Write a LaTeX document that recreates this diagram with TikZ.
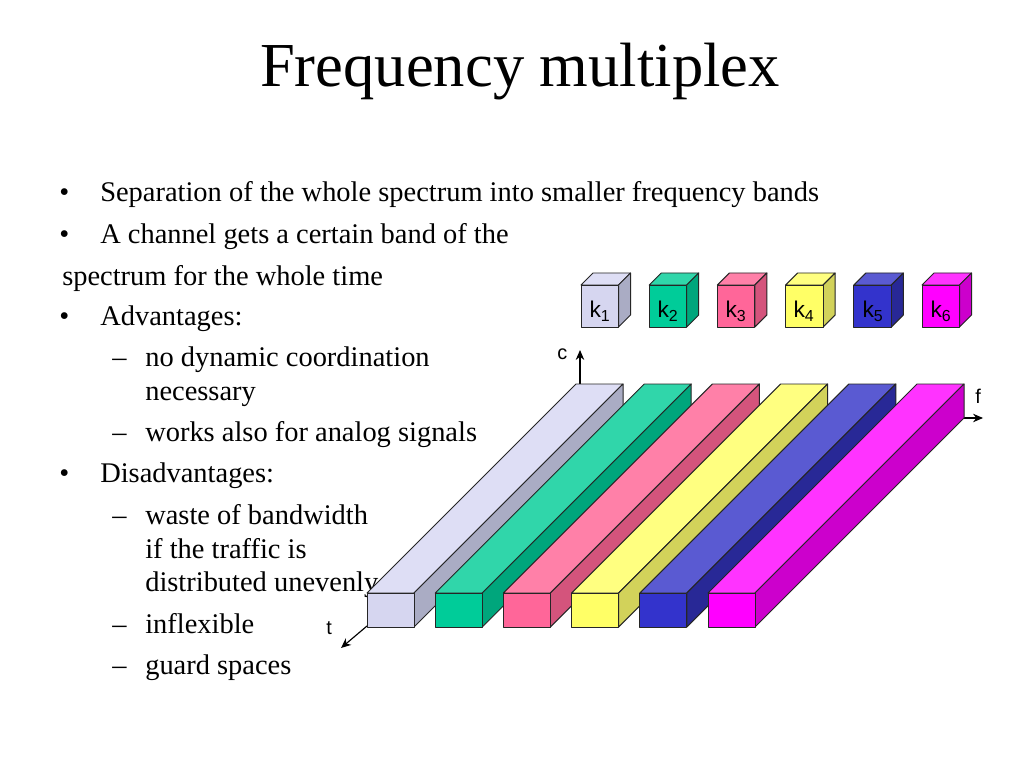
\documentclass[tikz,border=0pt]{standalone}
\usepackage{fontspec}
\setmainfont{Liberation Serif}
\newfontfamily\labfont{Liberation Sans}
\usetikzlibrary{arrows.meta}
\definecolor{lavF}{RGB}{214,214,240}
\definecolor{lavT}{RGB}{222,222,245}
\definecolor{lavS}{RGB}{170,172,196}
\definecolor{grnF}{RGB}{0,204,153}
\definecolor{grnT}{RGB}{48,214,170}
\definecolor{grnS}{RGB}{0,166,124}
\definecolor{pnkF}{RGB}{255,102,153}
\definecolor{pnkT}{RGB}{255,128,168}
\definecolor{pnkS}{RGB}{212,84,124}
\definecolor{yelF}{RGB}{255,255,102}
\definecolor{yelT}{RGB}{255,255,128}
\definecolor{yelS}{RGB}{210,210,90}
\definecolor{bluF}{RGB}{51,51,204}
\definecolor{bluT}{RGB}{90,90,210}
\definecolor{bluS}{RGB}{40,40,150}
\definecolor{magF}{RGB}{255,0,255}
\definecolor{magT}{RGB}{255,51,255}
\definecolor{magS}{RGB}{204,0,204}
\tikzset{
  txt/.style={anchor=base west, inner sep=0pt, font=\fontsize{20}{24}\selectfont},
  ttl/.style={anchor=base, inner sep=0pt, font=\fontsize{44}{52}\selectfont},
  axlab/.style={anchor=base west, inner sep=0pt, font=\labfont\fontsize{14}{16}\selectfont},
  klab/.style={anchor=base, inner sep=0pt, font=\labfont\fontsize{16}{18}\selectfont},
  face/.style={draw=black!85, line width=0.7pt, line join=round},
  axis/.style={draw=black, line width=0.8pt, -{Stealth[length=7pt,width=6pt]}}
}
\begin{document}
\begin{tikzpicture}[x=0.703125pt,y=-0.703125pt]
\useasboundingbox[fill=white] (0,0) rectangle (1024,768);
% title
\node[ttl] (title) at (520,87) {Frequency multiplex};
% bullets
\node[txt] (b1) at (59,202) {•};
\node[txt] (t1) at (100,202) {Separation of the whole spectrum into smaller frequency bands};
\node[txt] (b2) at (59,244) {•};
\node[txt] (t2) at (100,244) {A channel gets a certain band of the};
\node[txt] (t3) at (62,285) {spectrum for the whole time};
\node[txt] (b4) at (59,326) {•};
\node[txt] (t4) at (100,326) {Advantages:};
\node[txt] (d1) at (112,366) {–};
\node[txt] (t5) at (145,366) {no dynamic coordination};
\node[txt] (t6) at (145,400) {necessary};
\node[txt] (d2) at (112,441) {–};
\node[txt] (t7) at (145,441) {works also for analog signals};
\node[txt] (b5) at (59,482) {•};
\node[txt] (t8) at (100,482) {Disadvantages:};
\node[txt] (d3) at (112,524) {–};
\node[txt] (t9) at (145,524) {waste of bandwidth};
\node[txt] (t10) at (145,558) {if the traffic is};
\node[txt] (t11) at (145,591) {distributed unevenly};
\node[txt] (d4) at (112,633) {–};
\node[txt] (t12) at (145,633) {inflexible};
\node[txt] (d5) at (112,674) {–};
\node[txt] (t13) at (145,674) {guard spaces};
% axes
\coordinate (cA) at (580,384);
\coordinate (cB) at (580,350);
\coordinate (tA) at (367,626);
\coordinate (tB) at (341,648);
\coordinate (fA) at (962,418);
\coordinate (fB) at (983,418);
\draw[axis] (cA) -- (cB);
\draw[axis] (tA) -- (tB);
\draw[axis] (fA) -- (fB);
\node[axlab] (lc) at (557,359) {c};
\node[axlab] (lf) at (975,403) {f};
\node[axlab] (lt) at (326,634) {t};
% bars
\foreach \i/\c in {0/lav,1/grn,2/pnk,3/yel,4/blu,5/mag}{
  \pgfmathsetmacro{\xo}{367+68.2*\i}
  \draw[face, fill=\c T] ({\xo},593) -- ({\xo+209},384) -- ({\xo+256},384) -- ({\xo+47},593) -- cycle;
  \draw[face, fill=\c S] ({\xo+47},593) -- ({\xo+256},384) -- ({\xo+256},418) -- ({\xo+47},627) -- cycle;
  \draw[face, fill=\c F] ({\xo},593) rectangle ({\xo+47},627);
}
% cubes
\foreach \i/\c in {0/lav,1/grn,2/pnk,3/yel,4/blu,5/mag}{
  \pgfmathsetmacro{\xo}{581+68.2*\i}
  \draw[face, fill=\c T] ({\xo},285) -- ({\xo+12},273) -- ({\xo+49.5},273) -- ({\xo+37.5},285) -- cycle;
  \draw[face, fill=\c S] ({\xo+37.5},285) -- ({\xo+49.5},273) -- ({\xo+49.5},315) -- ({\xo+37.5},327) -- cycle;
  \draw[face, fill=\c F] ({\xo},285) rectangle ({\xo+37.5},327);
}
\node[klab] (k1) at (600,318) {k\textsubscript{1}};
\node[klab] (k2) at (668,318) {k\textsubscript{2}};
\node[klab] (k3) at (736,318) {k\textsubscript{3}};
\node[klab] (k4) at (804,318) {k\textsubscript{4}};
\node[klab] (k5) at (873,318) {k\textsubscript{5}};
\node[klab] (k6) at (941,318) {k\textsubscript{6}};
\end{tikzpicture}
\end{document}
